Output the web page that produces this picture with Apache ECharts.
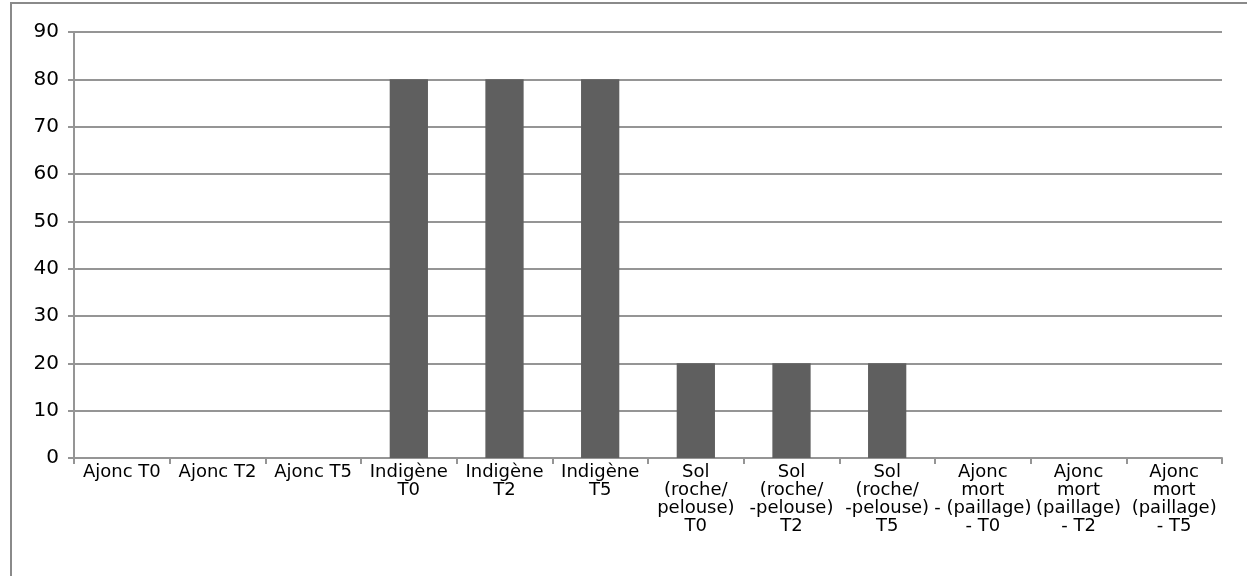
<!DOCTYPE html>
<html>
<head>
<meta charset="utf-8">
<script src="https://cdn.jsdelivr.net/npm/echarts@6/dist/echarts.min.js"></script>
<style>
  html, body { margin: 0; padding: 0; background: #fff; }
  #chart { width: 1247px; height: 576px; }
</style>
</head>
<body>
<div id="chart"></div>
<script>
// Category labels (line breaks as laid out under the axis)
const categories = [
  'Ajonc T0', 'Ajonc T2', 'Ajonc T5',
  'Indigène\nT0', 'Indigène\nT2', 'Indigène\nT5',
  'Sol\n(roche/\npelouse)\nT0', 'Sol\n(roche/\n-pelouse)\nT2', 'Sol\n(roche/\n-pelouse)\nT5',
  'Ajonc\nmort\n- (paillage)\n- T0', 'Ajonc\nmort\n(paillage)\n- T2', 'Ajonc\nmort\n(paillage)\n- T5'
];
// Bar heights per category
const values = [0, 0, 0, 80, 80, 80, 20, 20, 20, 0, 0, 0];
// Value axis range
const yMin = 0;
const yMax = 90;
const yStep = 10;

const FONT = '"DejaVu Sans", Verdana, sans-serif';
const LINE = '#959595';

const chart = echarts.init(document.getElementById('chart'), null, { renderer: 'canvas' });
chart.setOption({
  animation: false,
  backgroundColor: '#ffffff',
  grid: { left: 74, right: 25, top: 32, bottom: 118, containLabel: false },
  graphic: [{
    type: 'rect',
    shape: { x: 11, y: 3, width: 1400, height: 800 },
    style: { fill: 'none', stroke: '#8a8a8a', lineWidth: 2 },
    silent: true
  }],
  xAxis: {
    type: 'category',
    data: categories,
    boundaryGap: true,
    axisLine: { show: true, lineStyle: { color: LINE, width: 2 } },
    axisTick: { show: true, alignWithLabel: false, length: 6, lineStyle: { color: LINE, width: 2 } },
    axisLabel: {
      interval: 0, margin: 5, color: '#000', fontFamily: FONT, fontSize: 18, lineHeight: 18
    },
    splitLine: { show: false }
  },
  yAxis: {
    type: 'value',
    min: yMin, max: yMax, interval: yStep,
    axisLine: { show: true, lineStyle: { color: LINE, width: 2 } },
    axisTick: { show: true, length: 6, lineStyle: { color: LINE, width: 2 } },
    axisLabel: { margin: 15, color: '#000', fontFamily: FONT, fontSize: 20 },
    splitLine: { show: true, lineStyle: { color: LINE, width: 2 } }
  },
  series: [{
    type: 'bar',
    data: values,
    barWidth: '40%',
    itemStyle: { color: '#5f5f5f' }
  }]
});
</script>
</body>
</html>
